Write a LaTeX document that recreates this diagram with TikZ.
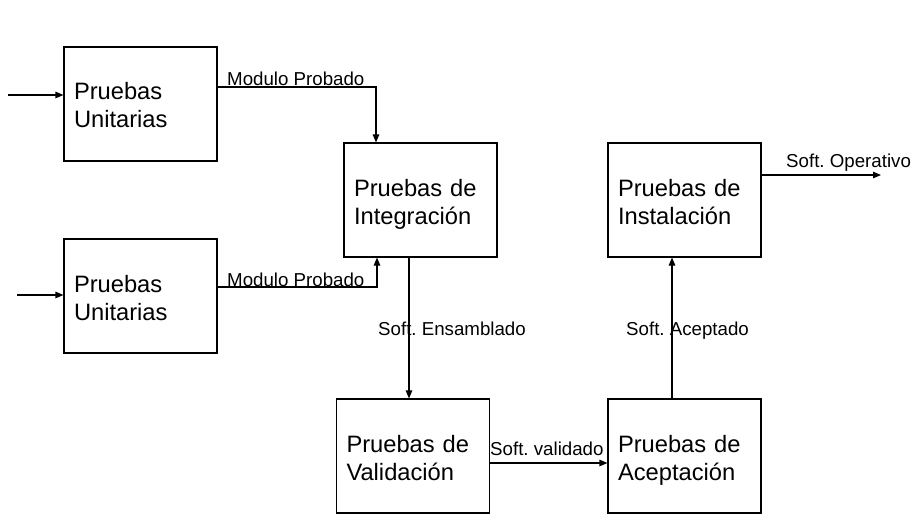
\documentclass[tikz,border=0pt]{standalone}
\usepackage{fontspec}
\setmainfont{Liberation Sans}
\usetikzlibrary{arrows.meta}
\frenchspacing
\newcommand{\tl}{\rule{0pt}{26pt}}
\newcommand{\bl}{\rule[-6pt]{0pt}{6pt}}
\begin{document}
\begin{tikzpicture}[x=1pt,y=-1pt,
  box/.style={draw, line width=1.1pt, minimum width=153pt, minimum height=114pt,
    text width=133pt, inner xsep=10pt, inner ysep=0pt, align=left,
    font=\fontsize{23.7pt}{28pt}\selectfont},
  lbl/.style={inner sep=0pt, anchor=base west, font=\frenchspacing\fontsize{18.7pt}{22pt}\selectfont},
  conn/.style={line width=1.1pt, -{Triangle[length=8pt,width=6.5pt]}}]
\useasboundingbox (0,0) rectangle (912,524);
\node[box] (u1) at (140.5,104) {\tl Pruebas\\Unitarias\bl};
\node[box] (u2) at (140.5,296) {\tl Pruebas\\Unitarias\bl};
\node[box] (int) at (420.5,200) {\tl Pruebas de\\Integración\bl};
\node[box] (val) at (413,456) {\tl Pruebas de\\Validación\bl};
\node[box] (ace) at (684.5,456) {\tl Pruebas de\\Aceptación\bl};
\node[box] (ins) at (684.5,200) {\tl Pruebas de\\Instalación\bl};
\coordinate (in1) at (8,95);
\coordinate (in2) at (17,295);
\coordinate (out) at (881,175);
\draw[conn] (in1) -- (in1 -| u1.west);
\draw[conn] (in2) -- (in2 -| u2.west);
\draw[conn] ([yshift=17pt]u1.east) -| ([xshift=-44.5pt]int.north);
\draw[conn] ([yshift=9pt]u2.east) -| ([xshift=-43.5pt]int.south);
\draw[conn] ([xshift=-11.5pt]int.south) -- ([xshift=-11.5pt]int.south |- val.north);
\draw[conn] ([yshift=-7pt]val.east) -- ([yshift=-7pt]val.east -| ace.west);
\draw[conn] ([xshift=-12.5pt]ace.north) -- ([xshift=-12.5pt]ace.north |- ins.south);
\draw[conn] (ins.east |- out) -- (out);
\node[lbl] (l1) at (227,86) {Modulo Probado};
\node[lbl] (l2) at (227,286) {Modulo Probado};
\node[lbl] (l3) at (378,335) {Soft. Ensamblado};
\node[lbl] (l4) at (490,455) {Soft. validado};
\node[lbl] (l5) at (626,335) {Soft. Aceptado};
\node[lbl] (l6) at (786,167) {Soft. Operativo};
\end{tikzpicture}
\end{document}
